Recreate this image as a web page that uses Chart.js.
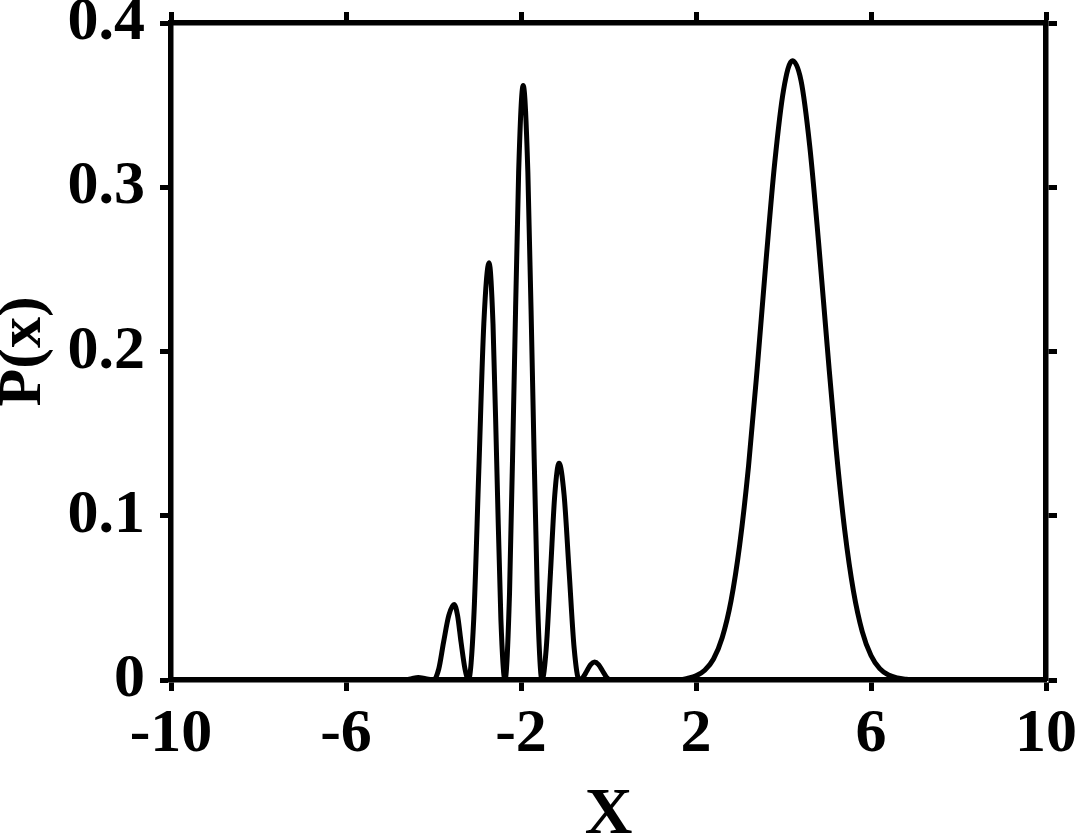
<!DOCTYPE html>
<html>
<head>
<meta charset="utf-8">
<title>P(x)</title>
<script src="https://cdn.jsdelivr.net/npm/chart.js@4/dist/chart.umd.min.js"></script>
<style>
  html, body { margin: 0; padding: 0; background: #fff; }
  canvas { display: block; }
</style>
</head>
<body>
<canvas id="chart" width="1078" height="836"></canvas>
<script>
// values
const xValues = [
  -10, -5, -4.65, -4.5, -4.35, -4.18, -4.0,
  -3.88, -3.77, -3.65, -3.53, -3.45, -3.37, -3.28, -3.20,
  -3.08, -2.965, -2.85, -2.73, -2.64, -2.55, -2.46, -2.366,
  -2.262, -2.158, -2.054, -1.95, -1.843, -1.735, -1.628, -1.52,
  -1.423, -1.325, -1.228, -1.13, -1.015, -0.90, -0.785, -0.67,
  -0.583, -0.495, -0.408, -0.32, -0.228, -0.135, -0.043, 0.05,
  1.0, 1.6, 1.8, 2.0, 2.2, 2.4, 2.6, 2.8, 3.0, 3.2, 3.4, 3.6, 3.8,
  4.0, 4.2, 4.4, 4.6, 4.8, 5.0, 5.2, 5.4, 5.6, 5.8, 6.0, 6.2, 6.4,
  6.6, 6.8, 7.0, 10
];
const pValues = [
  0, 0, 0, 0.0008, 0.0015, 0.0008, 0,
  0.0067, 0.023, 0.0393, 0.046, 0.0393, 0.023, 0.0067, 0,
  0.0372, 0.127, 0.2168, 0.254, 0.2168, 0.127, 0.0372, 0,
  0.053, 0.181, 0.309, 0.362, 0.309, 0.181, 0.053, 0,
  0.0193, 0.066, 0.1127, 0.132, 0.1127, 0.066, 0.0193, 0,
  0.0016, 0.0055, 0.0094, 0.011, 0.0094, 0.0055, 0.0016, 0,
  0, 0, 0.001, 0.0025, 0.0059, 0.0128, 0.0259, 0.0481, 0.0826, 0.130, 0.190, 0.255, 0.315,
  0.359, 0.377, 0.365, 0.325, 0.267, 0.203, 0.1415, 0.091, 0.054, 0.0295, 0.0149, 0.0069, 0.003,
  0.0012, 0.0004, 0, 0
];
const xTicks = [-10, -6, -2, 2, 6, 10];
const yTicks = [0, 0.1, 0.2, 0.3, 0.4];

const FONT = "'Liberation Serif', 'Times New Roman', serif";

// plot box (px)
const LEFT = 171, RIGHT = 32, TOP = 23, BOTTOM = 156;

function setTicks(list) {
  return function(scale) {
    scale.ticks = list.map(v => ({ value: v }));
  };
}

// fixed box size, and no extra room for labels sticking out past the ends
function fixSize(prop, px) {
  return function(s) {
    s[prop] = px;
    s.paddingTop = 0;
    s.paddingBottom = 0;
    s.paddingLeft = 0;
    s.paddingRight = 0;
  };
}

const frameGrid = {
  drawOnChartArea: false,
  drawTicks: true,
  tickLength: 11,
  tickWidth: 5,
  tickColor: '#000'
};
const frameBorder = { display: true, width: 5.5, color: '#000' };

new Chart(document.getElementById('chart'), {
  type: 'line',
  data: {
    datasets: [{
      data: xValues.map((x, i) => ({ x: x, y: pValues[i] })),
      borderColor: '#000',
      borderWidth: 5,
      pointRadius: 0,
      fill: false,
      cubicInterpolationMode: 'monotone',
      xAxisID: 'x',
      yAxisID: 'y'
    }]
  },
  options: {
    responsive: false,
    animation: false,
    layout: { padding: 0 },
    plugins: {
      legend: { display: false },
      tooltip: { enabled: false }
    },
    scales: {
      x: {
        type: 'linear',
        position: 'bottom',
        min: -10, max: 10,
        afterBuildTicks: setTicks(xTicks),
        afterFit: fixSize('height', BOTTOM),
        grid: frameGrid,
        border: frameBorder,
        ticks: {
          color: '#000',
          padding: 7,
          maxRotation: 0,
          font: { family: FONT, size: 62, weight: 'bold' }
        },
        title: {
          display: true,
          text: 'X',
          color: '#000',
          padding: 0,
          font: { family: FONT, size: 66, weight: 'bold', lineHeight: 0.62 }
        }
      },
      y: {
        type: 'linear',
        position: 'left',
        min: 0, max: 0.4,
        afterBuildTicks: setTicks(yTicks),
        afterFit: fixSize('width', LEFT),
        grid: frameGrid,
        border: frameBorder,
        ticks: {
          color: '#000',
          padding: 15,
          font: { family: FONT, size: 62, weight: 'bold' }
        },
        title: {
          display: true,
          text: 'P(x)',
          color: '#000',
          padding: 0,
          font: { family: FONT, size: 62, weight: 'bold', lineHeight: 0.78 }
        }
      },
      x2: {
        type: 'linear',
        position: 'top',
        min: -10, max: 10,
        afterBuildTicks: setTicks(xTicks),
        afterFit: fixSize('height', TOP),
        grid: frameGrid,
        border: frameBorder,
        ticks: { display: false }
      },
      y2: {
        type: 'linear',
        position: 'right',
        min: 0, max: 0.4,
        afterBuildTicks: setTicks(yTicks),
        afterFit: fixSize('width', RIGHT),
        grid: frameGrid,
        border: frameBorder,
        ticks: { display: false }
      }
    }
  }
});
</script>
</body>
</html>
